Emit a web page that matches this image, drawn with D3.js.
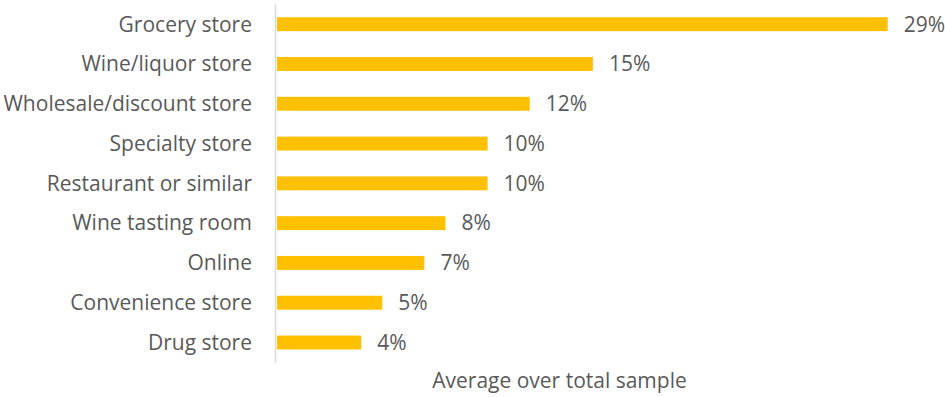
<!DOCTYPE html>
<html><head><meta charset="utf-8">
<script src="https://cdn.jsdelivr.net/npm/d3@7"></script>
<style>body{margin:0;background:#fff}text{font-family:"Open Sans",sans-serif;fill:#595959}</style>
</head><body><svg id="c" width="945" height="397"></svg>
<script>
const categories = ["Grocery store","Wine/liquor store","Wholesale/discount store","Specialty store","Restaurant or similar","Wine tasting room","Online","Convenience store","Drug store"];
const values = [0.29,0.15,0.12,0.10,0.10,0.08,0.07,0.05,0.04];
const axisTitle = "Average over total sample";

const svg = d3.select("#c");
const x = d3.scaleLinear().domain([0,0.29]).range([277,887.7]);
const y = d3.scaleBand().domain(categories).range([4.3,362.4]).paddingInner(0.65).paddingOuter(0.325);
const fmt = d3.format(".0%");
const fs = 21;

svg.append("line").attr("x1",275.5).attr("x2",275.5).attr("y1",4.5).attr("y2",362.5)
  .attr("stroke","#d9d9d9").attr("stroke-width",1.5);

svg.selectAll("rect.bar").data(values).join("rect").attr("class","bar")
  .attr("x",x(0)).attr("y",(d,i)=>y(categories[i]))
  .attr("width",d=>x(d)-x(0)).attr("height",y.bandwidth())
  .attr("fill","#FFC000");

svg.selectAll("text.cat").data(categories).join("text").attr("class","cat")
  .attr("x",252).attr("y",d=>y(d)+y.bandwidth()/2).attr("dy","0.35em")
  .attr("text-anchor","end").attr("font-size",fs).text(d=>d);

svg.selectAll("text.val").data(values).join("text").attr("class","val")
  .attr("x",d=>x(d)+16).attr("y",(d,i)=>y(categories[i])+y.bandwidth()/2).attr("dy","0.35em")
  .attr("font-size",fs).text(d=>fmt(d));

svg.append("text").attr("x",559.5).attr("y",381).attr("dy","0.35em")
  .attr("text-anchor","middle").attr("font-size",fs).text(axisTitle);
</script></body></html>
